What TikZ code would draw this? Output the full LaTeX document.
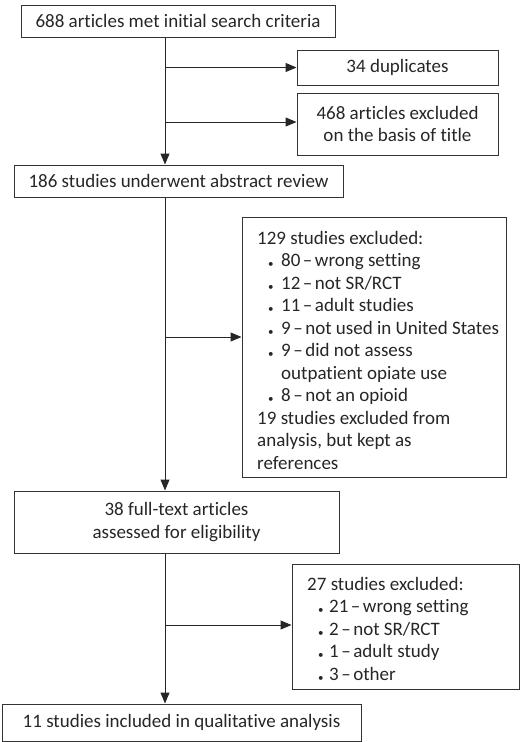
\documentclass[tikz,border=0pt]{standalone}
\usepackage{fontspec}
\setmainfont{Carlito}[Ligatures=NoCommon]
\usetikzlibrary{positioning,arrows.meta}

% bullet item: gap between bullet and text as first argument
\newcommand{\bul}[2]{\hspace*{11pt}\makebox[#1][l]{\raisebox{-1pt}{\fontsize{11}{11}\selectfont •}}#2}
\newcommand{\ndash}{\hspace{2.5pt}–\hspace{2.5pt}}

\begin{document}
\begin{tikzpicture}[
    x=1pt, y=-1pt,
    every node/.style={font=\fontsize{19}{22.5}\selectfont, text=black!85},
    box/.style={draw=black!80, line width=1pt, align=center, inner sep=0pt},
    listtext/.style={align=left, inner sep=0pt, anchor=north west},
    arr/.style={-{Triangle[length=11pt,width=9pt]}, line width=1pt, draw=black!85}
  ]
    \useasboundingbox (0,0) rectangle (520,742);

    % main column
    \node[box, minimum width=314pt, minimum height=32pt] (search) at (178,21) {688 articles met initial search criteria};
    \node[box, minimum width=329pt, minimum height=32pt] (abstract) at (178.5,181) {186 studies underwent abstract review};
    \node[box, minimum width=325pt, minimum height=62pt] (fulltext) at (176.5,522) {38 full-text articles\\assessed for eligibility};
    \node[box, minimum width=359pt, minimum height=37pt] (included) at (181.5,722.5) {11 studies included in qualitative analysis};

    % exclusion boxes
    \node[box, minimum width=201pt, minimum height=35pt] (dup) at (397.5,67.5) {34 duplicates};
    \node[box, minimum width=201pt, minimum height=62pt] (title) at (397.5,124) {468 articles excluded\\on the basis of title};
    \node[box, minimum width=264pt, minimum height=260pt] (excl1) at (374,347) {};
    \node[box, minimum width=227pt, minimum height=125pt] (excl2) at (405.5,626.5) {};

    % lists inside the exclusion boxes
    \node[listtext] (excl1list) at (257,231) {%
      129 studies excluded:\\
      \bul{13pt}{80\ndash wrong setting}\\
      \bul{13pt}{12\ndash not SR/RCT}\\
      \bul{13pt}{11\ndash adult studies}\\
      \bul{13pt}{9\ndash not used in United States}\\
      \bul{13pt}{9\ndash did not assess}\\
      \hspace*{24pt}outpatient opiate use\\
      \bul{13pt}{8\ndash not an opioid}\\
      19 studies excluded from\\
      analysis, but kept as\\
      references};
    \node[listtext] (excl2list) at (307,577) {%
      27 studies excluded:\\
      \bul{11pt}{21\ndash wrong setting}\\
      \bul{11pt}{2\ndash not SR/RCT}\\
      \bul{11pt}{1\ndash adult study}\\
      \bul{11pt}{3\ndash other}};

    % spine of the flow
    \coordinate (spine) at (165,0);

    \draw[arr] (search.south -| spine) -- (abstract.north -| spine);
    \draw[arr] (dup.west -| spine) -- (dup.west);
    \draw[arr] ([yshift=2pt]title.west -| spine) -- ([yshift=2pt]title.west);

    \draw[arr] (abstract.south -| spine) -- (fulltext.north -| spine);
    \draw[arr] ([yshift=10pt]excl1.west -| spine) -- ([yshift=10pt]excl1.west);

    \draw[arr] (fulltext.south -| spine) -- (included.north -| spine);
    \draw[arr] ([yshift=1.5pt]excl2.west -| spine) -- ([yshift=1.5pt]excl2.west);
  \end{tikzpicture}
\end{document}
